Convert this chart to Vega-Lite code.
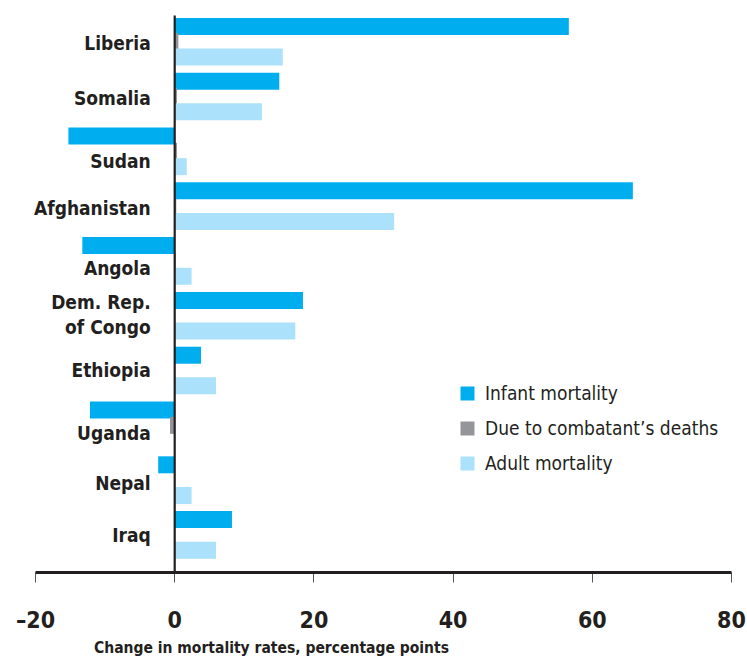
{
  "$schema": "https://vega.github.io/schema/vega-lite/v6.json",
  "width": 696,
  "height": 557,
  "autosize": {"type": "none"},
  "padding": {"left": 35, "top": 15, "right": 16, "bottom": 84},
  "background": "white",
  "config": {
    "view": {"stroke": null},
    "font": "'DejaVu Sans Condensed', Roboto, sans-serif",
    "axis": {"labelFont": "'DejaVu Sans Condensed', Roboto, sans-serif", "titleFont": "'DejaVu Sans Condensed', Roboto, sans-serif"},
    "legend": {"labelFont": "'DejaVu Sans Condensed', Roboto, sans-serif"}
  },
  "data": {
    "values": [
      {"country": "Liberia", "series": "Infant mortality", "value": 56.7},
      {"country": "Liberia", "series": "Due to combatant’s deaths", "value": 0.6},
      {"country": "Liberia", "series": "Adult mortality", "value": 15.6},
      {"country": "Somalia", "series": "Infant mortality", "value": 15.1},
      {"country": "Somalia", "series": "Due to combatant’s deaths", "value": 0.4},
      {"country": "Somalia", "series": "Adult mortality", "value": 12.6},
      {"country": "Sudan", "series": "Infant mortality", "value": -15.2},
      {"country": "Sudan", "series": "Due to combatant’s deaths", "value": 0.4},
      {"country": "Sudan", "series": "Adult mortality", "value": 1.8},
      {"country": "Afghanistan", "series": "Infant mortality", "value": 65.9},
      {"country": "Afghanistan", "series": "Due to combatant’s deaths", "value": 0.3},
      {"country": "Afghanistan", "series": "Adult mortality", "value": 31.6},
      {"country": "Angola", "series": "Infant mortality", "value": -13.2},
      {"country": "Angola", "series": "Due to combatant’s deaths", "value": 0.2},
      {"country": "Angola", "series": "Adult mortality", "value": 2.5},
      {"country": "Dem. Rep. of Congo", "series": "Infant mortality", "value": 18.5},
      {"country": "Dem. Rep. of Congo", "series": "Due to combatant’s deaths", "value": 0},
      {"country": "Dem. Rep. of Congo", "series": "Adult mortality", "value": 17.4},
      {"country": "Ethiopia", "series": "Infant mortality", "value": 3.85},
      {"country": "Ethiopia", "series": "Due to combatant’s deaths", "value": 0},
      {"country": "Ethiopia", "series": "Adult mortality", "value": 6.0},
      {"country": "Uganda", "series": "Infant mortality", "value": -12.1},
      {"country": "Uganda", "series": "Due to combatant’s deaths", "value": -0.6},
      {"country": "Uganda", "series": "Adult mortality", "value": 0},
      {"country": "Nepal", "series": "Infant mortality", "value": -2.3},
      {"country": "Nepal", "series": "Due to combatant’s deaths", "value": 0},
      {"country": "Nepal", "series": "Adult mortality", "value": 2.5},
      {"country": "Iraq", "series": "Infant mortality", "value": 8.3},
      {"country": "Iraq", "series": "Due to combatant’s deaths", "value": 0},
      {"country": "Iraq", "series": "Adult mortality", "value": 6.0}
    ]
  },
  "mark": {"type": "bar", "height": 17},
  "encoding": {
    "y": {
      "field": "country",
      "type": "nominal",
      "sort": null,
      "scale": {"paddingInner": 0.161, "paddingOuter": 0.1625, "align": 0.21},
      "axis": {
        "title": null,
        "orient": "left",
        "offset": -139.2,
        "zindex": 1,
        "domainColor": "#231f20",
        "domainWidth": 2.2,
        "ticks": false,
        "labelPadding": 24,
        "labelFontSize": 19,
        "labelFontWeight": "bold",
        "labelColor": "#231f20",
        "labelLineHeight": 25,
        "labelOffset": {
          "condition": [
            {"test": "datum.value == 'Sudan'", "value": 11},
            {"test": "datum.value == 'Angola'", "value": 8},
            {"test": "datum.value == 'Uganda'", "value": 9},
            {"test": "datum.value == 'Nepal'", "value": 4},
            {"test": "datum.value == 'Afghanistan'", "value": 3},
            {"test": "datum.value == 'Dem. Rep. of Congo'", "value": -13},
            {"test": "datum.value == 'Ethiopia'", "value": 0},
            {"test": "datum.value == 'Iraq'", "value": 1}
          ],
          "value": 2
        },
        "labelExpr": "datum.label == 'Dem. Rep. of Congo' ? ['Dem. Rep.', 'of Congo'] : datum.label"
      }
    },
    "yOffset": {
      "field": "series",
      "type": "nominal",
      "sort": ["Infant mortality", "Due to combatant’s deaths", "Adult mortality"],
      "scale": {"paddingInner": 0, "paddingOuter": 0}
    },
    "x": {
      "field": "value",
      "type": "quantitative",
      "scale": {"domain": [-20, 80], "nice": false, "zero": false},
      "axis": {
        "title": "Change in mortality rates, percentage points",
        "values": [-20, 0, 20, 40, 60, 80],
        "labelExpr": "datum.value < 0 ? '–' + abs(datum.value) : datum.label",
        "grid": false,
        "zindex": 1,
        "domainColor": "#231f20",
        "domainWidth": 3,
        "tickColor": "#555555",
        "tickWidth": 1,
        "tickSize": 10,
        "labelFontSize": 23,
        "labelFontWeight": "bold",
        "labelColor": "#231f20",
        "labelBaseline": "alphabetic",
        "labelPadding": 45,
        "labelFlush": false,
        "titleFontSize": 15.5,
        "titleFontWeight": "bold",
        "titleColor": "#231f20",
        "titleX": 236,
        "titleY": 80,
        "titleAlign": "center",
        "titleBaseline": "alphabetic"
      }
    },
    "color": {
      "field": "series",
      "type": "nominal",
      "scale": {
        "domain": ["Infant mortality", "Due to combatant’s deaths", "Adult mortality"],
        "range": ["#00aeef", "#939598", "#abe1fa"]
      },
      "legend": {
        "title": null,
        "orient": "none",
        "legendX": 423,
        "legendY": 369,
        "symbolType": "square",
        "symbolSize": 196,
        "symbolStrokeWidth": 0,
        "labelFontSize": 19,
        "labelColor": "#231f20",
        "labelOffset": 8,
        "rowPadding": 15,
        "labelLimit": 400
      }
    }
  }
}
